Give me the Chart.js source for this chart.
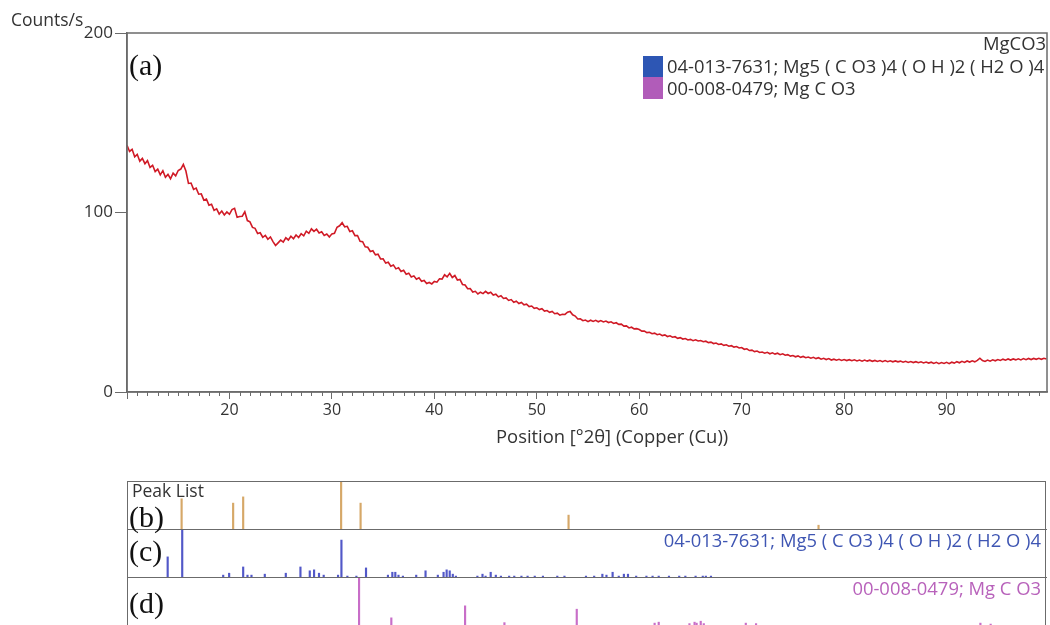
<!DOCTYPE html>
<html>
<head>
<meta charset="utf-8">
<title>MgCO3 - XRD</title>
<script src="https://cdn.jsdelivr.net/npm/chart.js@4.4.1/dist/chart.umd.min.js"></script>
<style>
  html, body { margin: 0; padding: 0; background: #fff; overflow: hidden; }
  body { position: relative; width: 1050px; height: 625px; font-family: "Open Sans", sans-serif; color: #333; }
  .abs { position: absolute; white-space: nowrap; line-height: 1.2; }
  .tag { font-family: "Liberation Serif", "DejaVu Serif", serif; font-size: 30px; color: #111; line-height: 1; }
  .lbl { font-size: 18.4px; }
  .sq { position: absolute; width: 20px; height: 21px; }
  .line { position: absolute; border-top: 1.5px solid #6b6b6b; height: 0; }
</style>
</head>
<body>

<canvas id="main" class="abs" style="left:0;top:0;" width="1050" height="460"></canvas>
<canvas id="peaks" class="abs" style="left:127px;top:482px;" width="920" height="48"></canvas>
<canvas id="hydro" class="abs" style="left:127px;top:530px;" width="920" height="48"></canvas>
<canvas id="mgco3" class="abs" style="left:127px;top:578px;" width="920" height="48"></canvas>

<!-- stick panel frame -->
<div class="abs" style="left:127px;top:481px;width:917px;height:200px;border:1.5px solid #6b6b6b;border-bottom:none;"></div>
<div class="line" style="left:127px;top:529px;width:920px;"></div>
<div class="line" style="left:127px;top:577px;width:920px;"></div>

<div class="abs" style="left:11px;top:9px;font-size:17.5px;">Counts/s</div>
<div class="abs tag" style="left:129px;top:50px;">(a)</div>

<div class="abs lbl" style="right:4px;top:32px;">MgCO3</div>
<div class="sq" style="left:643px;top:56px;background:#2d56b4;"></div>
<div class="abs lbl" style="left:667px;top:55px;">04-013-7631; Mg5 ( C O3 )4 ( O H )2 ( H2 O )4</div>
<div class="sq" style="left:643px;top:77px;height:22px;background:#b15cb9;"></div>
<div class="abs lbl" style="left:667px;top:77px;">00-008-0479; Mg C O3</div>

<div class="abs lbl" style="left:496px;top:425px;">Position [°2θ] (Copper (Cu))</div>

<div class="abs" style="left:132px;top:480px;font-size:17.5px;">Peak List</div>
<div class="abs tag" style="left:129px;top:502px;">(b)</div>
<div class="abs tag" style="left:129px;top:536px;">(c)</div>
<div class="abs tag" style="left:129px;top:588px;">(d)</div>
<div class="abs lbl" style="right:9px;top:529px;color:#3f56b3;">04-013-7631; Mg5 ( C O3 )4 ( O H )2 ( H2 O )4</div>
<div class="abs lbl" style="right:9px;top:577px;color:#b862bb;">00-008-0479; Mg C O3</div>

<script>
// scan: 10.00 .. 99.75 deg 2theta, 0.25 deg per step
var scanStart = 10.0;
var scanStep = 0.25;
var counts = [
  137.5, 134.0, 135.2, 131.0, 132.4, 128.6, 130.1, 127.2, 128.9, 125.1, 126.3, 122.8, 124.2, 121.0, 123.3, 119.6, 121.2, 118.8, 121.9, 120.4,
  123.4, 124.2, 126.8, 123.1, 116.2, 116.4, 112.9, 113.6, 110.2, 110.4, 106.9, 107.5, 104.1, 104.6, 101.2, 102.0, 99.1, 100.8, 98.6, 100.3,
  99.0, 101.6, 102.3, 97.4, 97.8, 97.9, 100.4, 95.5, 94.8, 91.7, 91.2, 88.3, 88.7, 86.2, 87.3, 85.1, 86.4, 83.8, 81.6, 83.1,
  84.6, 83.5, 85.9, 84.7, 86.8, 85.4, 87.5, 86.1, 88.2, 87.0, 89.6, 88.4, 90.9, 89.5, 90.7, 88.6, 89.3, 87.2, 88.0, 86.3,
  88.1, 88.4, 91.8, 92.6, 94.3, 92.0, 92.3, 89.4, 89.8, 87.1, 87.2, 84.0, 83.7, 80.9, 80.6, 78.3, 78.7, 76.4, 76.8, 74.1,
  74.2, 71.8, 72.3, 70.1, 70.8, 68.6, 69.2, 67.1, 67.8, 65.6, 66.2, 64.1, 64.7, 62.8, 63.6, 61.7, 62.1, 60.4, 61.0, 60.2,
  61.6, 61.2, 63.1, 62.9, 65.3, 64.2, 66.1, 63.8, 64.9, 62.4, 62.7, 59.9, 59.6, 57.5, 57.6, 55.7, 56.1, 54.6, 55.6, 54.8,
  56.1, 54.9, 55.6, 54.0, 54.5, 53.0, 53.6, 52.1, 52.4, 51.0, 51.5, 50.0, 50.6, 49.3, 49.9, 48.6, 48.9, 47.6, 47.9, 46.6,
  46.9, 45.9, 46.4, 45.1, 45.4, 44.4, 44.9, 43.6, 43.9, 42.8, 43.3, 43.2, 44.5, 44.9, 43.0, 42.3, 40.7, 40.8, 39.7, 40.1,
  39.2, 40.0, 39.3, 39.9, 39.1, 39.8, 39.0, 39.5, 38.7, 39.1, 38.2, 38.6, 37.7, 37.8, 36.7, 36.8, 35.7, 36.1, 35.2, 35.3,
  34.8, 33.9, 34.0, 33.1, 33.3, 32.5, 32.8, 31.9, 32.3, 31.4, 31.8, 30.9, 31.3, 30.5, 30.8, 29.9, 30.3, 29.5, 29.8, 29.0,
  29.3, 28.6, 29.1, 28.4, 28.7, 28.0, 28.3, 27.5, 27.8, 27.0, 27.3, 26.5, 26.8, 26.0, 26.3, 25.5, 25.8, 25.0, 25.3, 24.5,
  24.8, 23.8, 24.1, 23.1, 23.3, 22.5, 22.8, 22.0, 22.3, 21.6, 22.1, 21.3, 21.8, 21.1, 21.6, 20.8, 21.3, 20.5, 20.8, 20.0,
  20.3, 19.6, 20.1, 19.3, 19.8, 19.1, 19.5, 18.8, 19.3, 18.6, 19.1, 18.3, 18.8, 18.1, 18.6, 17.8, 18.3, 17.7, 18.2, 17.6,
  18.1, 17.5, 18.0, 17.4, 17.9, 17.3, 17.8, 17.2, 17.8, 17.2, 17.7, 17.1, 17.6, 17.0, 17.5, 16.9, 17.5, 16.9, 17.4, 16.8,
  17.3, 16.8, 17.2, 16.6, 17.1, 16.5, 17.0, 16.4, 16.9, 16.3, 16.8, 16.2, 16.7, 16.1, 16.6, 15.9, 16.5, 15.8, 16.4, 15.9,
  16.5, 15.8, 16.6, 16.1, 16.9, 16.3, 17.1, 16.5, 17.3, 16.7, 17.4, 16.8, 17.6, 18.8, 17.5, 17.0, 17.8, 17.2, 17.9, 17.4,
  18.1, 17.6, 18.3, 17.7, 18.4, 17.8, 18.4, 17.9, 18.5, 17.9, 18.6, 18.0, 18.7, 18.1, 18.7, 18.2, 18.8, 18.2, 18.8, 18.4
];

// peak list (relative height, %)
var peakPos = [15.33, 20.36, 21.34, 30.90, 32.80, 53.10, 77.50];
var peakRel = [65, 56, 69, 104, 56, 31, 10];

// 04-013-7631 Mg5(CO3)4(OH)2(H2O)4 reference lines
var hydroPos = [13.97, 15.39, 19.39, 19.97, 21.34, 21.76, 22.15, 23.45, 25.50, 26.93, 27.84, 28.26, 28.74, 29.20,
  30.60, 30.93, 31.51, 32.39, 33.33, 35.47, 35.90, 36.19, 36.50, 36.93, 38.23, 39.14, 40.34, 40.90, 41.20, 41.50,
  41.80, 42.10, 44.20, 44.70, 45.00, 45.50, 46.00, 46.50, 47.30, 47.80, 48.50, 49.10, 49.80, 50.60, 52.00, 52.70,
  54.80, 55.60, 56.40, 56.80, 57.40, 58.00, 58.50, 58.90, 59.70, 60.70, 61.30, 61.90, 62.90, 63.90, 64.50, 65.50,
  66.20, 66.50, 67.00];
var hydroRel = [44, 100, 6, 10, 23, 6, 6, 8, 10, 23, 15, 17, 10, 6,
  6, 79, 4, 4, 21, 6, 12, 12, 6, 4, 6, 15, 6, 12, 17, 15,
  8, 4, 4, 8, 4, 12, 6, 4, 4, 4, 4, 4, 4, 4, 4, 4,
  4, 4, 8, 6, 12, 4, 8, 8, 4, 4, 4, 4, 4, 4, 4, 4,
  4, 4, 4];

// 00-008-0479 MgCO3 reference lines
var mgco3Pos = [32.65, 35.80, 43.00, 46.84, 53.90, 61.50, 61.90, 64.90, 65.40, 65.60, 66.00, 66.30, 70.40, 71.40, 93.30, 94.30];
var mgco3Rel = [100, 17, 42, 7, 35, 6, 8, 5, 8, 6, 10, 5, 6, 5, 6, 4];

var xMin = 10, xMax = 99.8;
var axisColor = '#6b6b6b';

var scan = counts.map(function(c, i) { return { x: scanStart + i * scanStep, y: c }; });

// box around the plot plus the 1-degree minor ticks
var framePlugin = {
  id: 'frame',
  afterDraw: function(chart) {
    var a = chart.chartArea, ctx = chart.ctx, xs = chart.scales.x;
    ctx.save();
    ctx.strokeStyle = axisColor;
    ctx.lineWidth = 1.5;
    ctx.strokeRect(a.left, a.top, a.right - a.left, a.bottom - a.top);
    ctx.lineWidth = 1;
    ctx.beginPath();
    for (var v = Math.ceil(xs.min); v <= xs.max; v++) {
      if (v % 10 === 0) continue;
      var px = Math.round(xs.getPixelForValue(v)) + 0.5;
      ctx.moveTo(px, a.bottom);
      ctx.lineTo(px, a.bottom + 4);
    }
    ctx.stroke();
    ctx.restore();
  }
};

new Chart(document.getElementById('main'), {
  type: 'line',
  data: {
    datasets: [{
      label: 'MgCO3',
      data: scan,
      borderColor: 'rgb(208, 26, 38)',
      borderWidth: 1.6,
      pointRadius: 0,
      tension: 0
    }]
  },
  options: {
    responsive: false,
    animation: false,
    events: [],
    layout: { padding: { top: 33, right: 3, left: 0, bottom: 0 } },
    plugins: { legend: { display: false }, tooltip: { enabled: false } },
    scales: {
      x: {
        type: 'linear',
        min: xMin,
        max: xMax,
        afterFit: function(s) { s.height = 68; },
        border: { color: axisColor, width: 1.5 },
        grid: { drawOnChartArea: false, tickLength: 7, color: axisColor },
        ticks: {
          stepSize: 10,
          includeBounds: false,
          maxRotation: 0,
          padding: 2,
          color: '#333',
          font: { family: 'Open Sans', size: 16 },
          callback: function(v) { return v === 10 ? '' : v; }
        }
      },
      y: {
        min: 0,
        max: 200,
        afterFit: function(s) { s.width = 127; },
        border: { color: axisColor, width: 1.5 },
        grid: { drawOnChartArea: false, tickLength: 12, color: axisColor },
        ticks: { stepSize: 100, padding: 2, color: '#333', font: { family: 'Open Sans', size: 17 } }
      }
    }
  },
  plugins: [framePlugin]
});

// one stick panel per pattern, sharing the 2theta range of the scan
function stickPanel(id, pos, rel, color) {
  new Chart(document.getElementById(id), {
    type: 'bar',
    data: {
      datasets: [{
        data: pos.map(function(p, i) { return { x: p, y: rel[i] }; }),
        backgroundColor: color,
        barThickness: 1.5
      }]
    },
    options: {
      responsive: false,
      animation: false,
      events: [],
      layout: { padding: 0 },
      plugins: { legend: { display: false }, tooltip: { enabled: false } },
      scales: {
        x: { type: 'linear', min: xMin, max: xMax, offset: false, display: false },
        y: { min: 0, max: 100, display: false }
      }
    }
  });
}

stickPanel('peaks', peakPos, peakRel, 'rgb(214, 168, 104)');
stickPanel('hydro', hydroPos, hydroRel, 'rgb(82, 88, 200)');
stickPanel('mgco3', mgco3Pos, mgco3Rel, 'rgb(200, 110, 200)');
</script>
</body>
</html>
